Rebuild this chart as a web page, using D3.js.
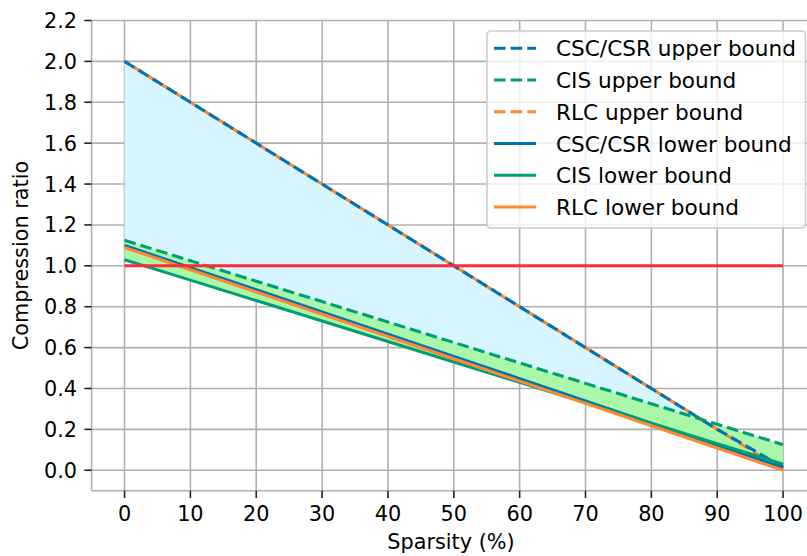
<!DOCTYPE html>
<html><head><meta charset="utf-8">
<script src="https://cdn.jsdelivr.net/npm/d3@7"></script>
<style>body{margin:0;background:#fff}svg{display:block;font-family:"DejaVu Sans",sans-serif}</style>
</head><body><svg id="c" width="807" height="556"></svg>
<script>
const sparsity = [0,10,20,30,40,50,60,70,80,90,100];
const cscUpper = [2.0,1.8,1.6,1.4,1.2,1.0,0.8,0.6,0.4,0.2,0.015];
const cisUpper = [1.125,1.025,0.925,0.825,0.725,0.625,0.525,0.425,0.325,0.225,0.125];
const rlcUpper = [2.0,1.8,1.6,1.4,1.2,1.0,0.8,0.6,0.4,0.2,0.0];
const cscLower = [1.1,0.991,0.883,0.774,0.665,0.557,0.448,0.339,0.23,0.122,0.013];
const cisLower = [1.03,0.93,0.83,0.73,0.63,0.53,0.43,0.33,0.23,0.13,0.03];
const rlcLower = [1.09,0.981,0.872,0.763,0.654,0.545,0.436,0.327,0.218,0.109,0.0];
const refLine = 1.0;
const xTicks = [0,10,20,30,40,50,60,70,80,90,100];
const yTicks = [0.0,0.2,0.4,0.6,0.8,1.0,1.2,1.4,1.6,1.8,2.0,2.2];
const legendLabels = ["CSC/CSR upper bound","CIS upper bound","RLC upper bound","CSC/CSR lower bound","CIS lower bound","RLC lower bound"];

const BLUE="#0173b2", GREEN="#029e73", ORANGE="#ff8833", RED="#ff2a36";
const FS = 20.8, LFS = 21.6, LW = 3.1, GW = 1.6, DASH = "11.6,5";
const svg = d3.select("#c");
const L = 91.6, R = 816, T = 20.5, B = 490.7;
const x = d3.scaleLinear().domain([-5,105]).range([L,R]);
const y = d3.scaleLinear().domain([-0.1,2.2]).range([B,T]);

// grid
const g = svg.append("g");
g.selectAll(".gx").data(xTicks).join("line").attr("x1",d=>x(d)).attr("x2",d=>x(d)).attr("y1",T).attr("y2",B)
  .attr("stroke","#b0b0b0").attr("stroke-width",GW);
g.selectAll(".gy").data(yTicks).join("line").attr("y1",d=>y(d)).attr("y2",d=>y(d)).attr("x1",L).attr("x2",R)
  .attr("stroke","#b0b0b0").attr("stroke-width",GW);

const idx = d3.range(sparsity.length);
const area = (up,lo)=>d3.area().x(i=>x(sparsity[i])).y0(i=>y(lo[i])).y1(i=>y(up[i]))(idx);
const line = (v)=>d3.line().x(i=>x(sparsity[i])).y(i=>y(v[i]))(idx);

svg.append("path").attr("d",area(cscUpper,cscLower)).attr("fill","#d7f5fe");
svg.append("path").attr("d",area(cisUpper,cisLower)).attr("fill","#a9f8a9");

const styles = [
  {v:rlcUpper,c:ORANGE,d:DASH,o:-10},
  {v:cscUpper,c:BLUE,d:DASH,o:0},
  {v:cisUpper,c:GREEN,d:DASH,o:0},
  {v:cscLower,c:BLUE,d:null},
  {v:cisLower,c:GREEN,d:null},
  {v:rlcLower,c:ORANGE,d:null}
];
styles.forEach(s=>{
  const p = svg.append("path").attr("d",line(s.v)).attr("fill","none").attr("stroke",s.c).attr("stroke-width",LW);
  if(s.d) p.attr("stroke-dasharray",s.d).attr("stroke-dashoffset",s.o);
});
svg.append("line").attr("x1",x(0)).attr("x2",x(100)).attr("y1",y(refLine)).attr("y2",y(refLine))
  .attr("stroke",RED).attr("stroke-width",LW);

// spines
svg.append("line").attr("x1",L).attr("x2",L).attr("y1",T).attr("y2",B).attr("stroke","#b0b0b0").attr("stroke-width",GW);
svg.append("line").attr("x1",L).attr("x2",R).attr("y1",B).attr("y2",B).attr("stroke","#b0b0b0").attr("stroke-width",GW);

// axes ticks
const ax = svg.append("g").attr("font-size",FS).attr("fill","#000");
yTicks.forEach(t=>{
  ax.append("line").attr("x1",L-7.3).attr("x2",L).attr("y1",y(t)).attr("y2",y(t)).attr("stroke","#222").attr("stroke-width",GW);
  ax.append("text").attr("x",L-14.6).attr("y",y(t)).attr("dy","0.36em").attr("text-anchor","end").text(t.toFixed(1));
});
xTicks.forEach(t=>{
  ax.append("line").attr("x1",x(t)).attr("x2",x(t)).attr("y1",B).attr("y2",B+7.3).attr("stroke","#222").attr("stroke-width",GW);
  ax.append("text").attr("x",x(t)).attr("y",521).attr("text-anchor","middle").text(t);
});
ax.append("text").attr("x",451).attr("y",549).attr("text-anchor","middle").text("Sparsity (%)");
ax.append("text").attr("transform",`translate(28,${(T+B)/2}) rotate(-90)`).attr("text-anchor","middle").text("Compression ratio");

// legend
const lg = svg.append("g");
lg.append("rect").attr("x",487).attr("y",31).attr("width",318.5).attr("height",197).attr("rx",4)
  .attr("fill","#fff").attr("fill-opacity",0.8).attr("stroke","#cccccc").attr("stroke-width",1.6);
const lStyles = [[BLUE,true],[GREEN,true],[ORANGE,true],[BLUE,false],[GREEN,false],[ORANGE,false]];
legendLabels.forEach((lab,i)=>{
  const yy = 48.3 + i*31.75;
  const l = lg.append("line").attr("x1",494).attr("x2",536).attr("y1",yy).attr("y2",yy).attr("stroke",lStyles[i][0]).attr("stroke-width",LW);
  if(lStyles[i][1]) l.attr("stroke-dasharray",DASH);
  lg.append("text").attr("x",556).attr("y",yy+8).attr("font-size",LFS).text(lab);
});
</script></body></html>
